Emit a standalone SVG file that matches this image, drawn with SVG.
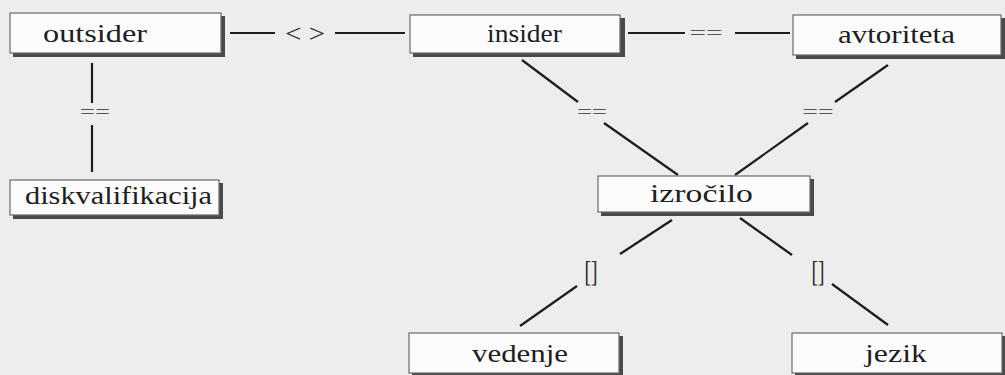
<svg xmlns="http://www.w3.org/2000/svg" width="1005" height="375" viewBox="0 0 1005 375">
<style>
.bg{fill:#ededed}
.box{fill:#fbfbfb;stroke:#6a6a6a;stroke-width:1.2}
.sh{fill:#4a4a4a}
.lbl{font-family:"Liberation Serif","DejaVu Serif",serif;font-size:26px;fill:#1e1e1e}
.ln{stroke:#1e1e1e;stroke-width:2.2;fill:none}
.sym{font-family:"Liberation Serif","DejaVu Serif",serif;fill:#555}
.br{font-family:"Liberation Serif","DejaVu Serif",serif;fill:#2a2a2a;font-size:30px}
</style>
<rect class="bg" x="0" y="0" width="1005" height="375"/>

<g id="connectors">
  <!-- outsider - insider -->
  <line class="ln" x1="230" y1="33" x2="275" y2="33"/>
  <text x="305" y="42" font-family="Liberation Serif, DejaVu Serif, serif" font-size="26" fill="#222" text-anchor="middle" textLength="40" lengthAdjust="spacingAndGlyphs">&lt; &gt;</text>
  <line class="ln" x1="335" y1="33" x2="405" y2="33"/>
  <!-- insider - avtoriteta -->
  <line class="ln" x1="628" y1="33" x2="685" y2="33"/>
  <text class="sym" x="706" y="39" font-size="18" text-anchor="middle" textLength="33" lengthAdjust="spacingAndGlyphs">==</text>
  <line class="ln" x1="735" y1="33" x2="790" y2="33"/>
  <!-- outsider - diskvalifikacija -->
  <line class="ln" x1="92" y1="63" x2="92" y2="103"/>
  <text class="sym" x="95" y="118" font-size="18" text-anchor="middle" textLength="30" lengthAdjust="spacingAndGlyphs">==</text>
  <line class="ln" x1="92" y1="125" x2="92" y2="172"/>
  <!-- insider - izročilo -->
  <line class="ln" x1="522" y1="60" x2="578" y2="102"/>
  <text class="sym" x="592" y="118" font-size="18" text-anchor="middle" textLength="30" lengthAdjust="spacingAndGlyphs">==</text>
  <line class="ln" x1="604" y1="123" x2="678" y2="175"/>
  <!-- avtoriteta - izročilo -->
  <line class="ln" x1="888" y1="65" x2="835" y2="102"/>
  <text class="sym" x="818" y="118" font-size="18" text-anchor="middle" textLength="31" lengthAdjust="spacingAndGlyphs">==</text>
  <line class="ln" x1="808" y1="123" x2="735" y2="175"/>
  <!-- izročilo - vedenje -->
  <line class="ln" x1="672" y1="220" x2="620" y2="254"/>
  <text class="br" x="591" y="281" text-anchor="middle" textLength="13" lengthAdjust="spacingAndGlyphs">[]</text>
  <line class="ln" x1="577" y1="286" x2="520" y2="326"/>
  <!-- izročilo - jezik -->
  <line class="ln" x1="740" y1="218" x2="792" y2="255"/>
  <text class="br" x="818" y="281" text-anchor="middle" textLength="13" lengthAdjust="spacingAndGlyphs">[]</text>
  <line class="ln" x1="832" y1="284" x2="888" y2="325"/>
</g>

<g id="outsider">
  <rect class="sh" x="13" y="16" width="212" height="41"/>
  <rect class="box" x="10" y="13" width="211" height="40"/>
  <text class="lbl" x="43" y="42" textLength="104" lengthAdjust="spacingAndGlyphs">outsider</text>
</g>
<g id="insider">
  <rect class="sh" x="413" y="18" width="212" height="39"/>
  <rect class="box" x="410" y="15" width="210" height="38"/>
  <text class="lbl" x="487" y="42" textLength="75" lengthAdjust="spacingAndGlyphs">insider</text>
</g>
<g id="avtoriteta">
  <rect class="sh" x="796" y="18" width="209" height="41"/>
  <rect class="box" x="793" y="15" width="208" height="40"/>
  <text class="lbl" x="838" y="43" textLength="117" lengthAdjust="spacingAndGlyphs">avtoriteta</text>
</g>
<g id="diskvalifikacija">
  <rect class="sh" x="13" y="183" width="210" height="36"/>
  <rect class="box" x="10" y="180" width="209" height="35"/>
  <text class="lbl" x="25" y="204" textLength="187" lengthAdjust="spacingAndGlyphs">diskvalifikacija</text>
</g>
<g id="izrocilo">
  <rect class="sh" x="601" y="179" width="213" height="37"/>
  <rect class="box" x="598" y="176" width="212" height="36"/>
  <text class="lbl" x="650" y="202" textLength="103" lengthAdjust="spacingAndGlyphs">izročilo</text>
</g>
<g id="vedenje">
  <rect class="sh" x="412" y="336" width="211" height="40"/>
  <rect class="box" x="409" y="333" width="210" height="40"/>
  <text class="lbl" x="472" y="362" textLength="96" lengthAdjust="spacingAndGlyphs">vedenje</text>
</g>
<g id="jezik">
  <rect class="sh" x="795" y="336" width="210" height="40"/>
  <rect class="box" x="792" y="333" width="210" height="40"/>
  <text class="lbl" x="865" y="362" textLength="62" lengthAdjust="spacingAndGlyphs">jezik</text>
</g>
</svg>
